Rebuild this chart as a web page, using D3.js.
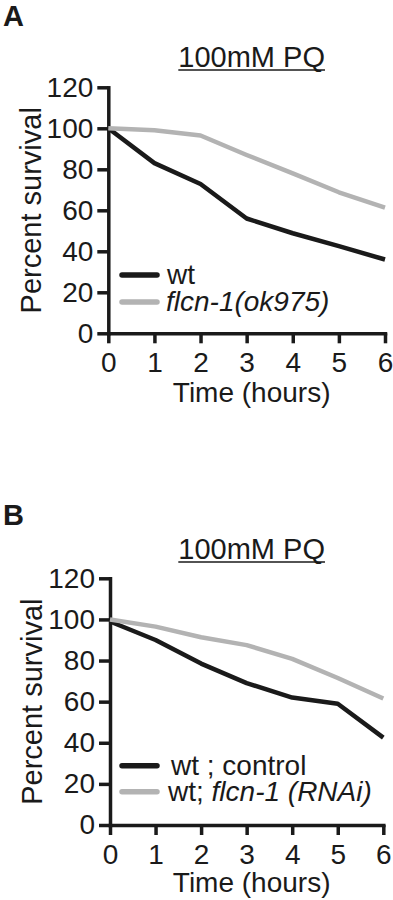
<!DOCTYPE html>
<html>
<head>
<meta charset="utf-8">
<script src="https://cdn.jsdelivr.net/npm/d3@7"></script>
<style>
  body { margin: 0; background: #fff; }
  svg text { font-family: "Liberation Sans", Arial, sans-serif; fill: #1a1a1a; }
</style>
</head>
<body>
<div id="vis"></div>
<script>
const WIDTH = 393;
const HEIGHT = 900;

// data
const HOURS = [0, 1, 2, 3, 4, 5, 6];
const Y_TICKS = [0, 20, 40, 60, 80, 100, 120];
const A_WT = [100, 83, 72.8, 56, 48.8, 42.5, 36];
const A_FLCN = [100, 99, 96.5, 87, 78, 68.8, 61.3];
const B_CONTROL = [99, 90, 78.5, 69, 62, 59, 42.5];
const B_RNAI = [100, 96.5, 91.3, 87.5, 80.8, 71.5, 61.5];

const BLACK = "#1a1a1a";
const GREY = "#b3b3b3";

const FRAME = d3.select("#vis")
    .append("svg")
        .attr("width", WIDTH)
        .attr("height", HEIGHT);

function panel(opts) {
    const X_SCALE = d3.scaleLinear()
        .domain([0, 6])
        .range([opts.x0, opts.x1]);
    const Y_SCALE = d3.scaleLinear()
        .domain([0, 120])
        .range([opts.yBottom, opts.yTop]);

    // panel letter
    FRAME.append("text")
        .attr("x", 3)
        .attr("y", opts.letterY)
        .attr("font-size", 29)
        .attr("font-weight", "bold")
        .text(opts.letter);

    // title, underlined
    const title = FRAME.append("text")
        .attr("x", (opts.x0 + opts.x1) / 2 + 5)
        .attr("y", opts.titleY)
        .attr("text-anchor", "middle")
        .attr("font-size", 29)
        .text("100mM PQ");
    const tb = title.node().getBBox();
    FRAME.append("line")
        .attr("x1", tb.x).attr("x2", tb.x + tb.width)
        .attr("y1", opts.titleY + 3).attr("y2", opts.titleY + 3)
        .attr("stroke", BLACK).attr("stroke-width", 1.6);

    // axes
    const yAxis = FRAME.append("g")
        .attr("transform", `translate(${opts.x0},0)`)
        .call(d3.axisLeft(Y_SCALE).tickValues(Y_TICKS).tickFormat(d3.format("d"))
            .tickSize(11).tickSizeOuter(0).tickPadding(4));
    const xAxis = FRAME.append("g")
        .attr("transform", `translate(0,${opts.yBottom})`)
        .call(d3.axisBottom(X_SCALE).tickValues(HOURS).tickFormat(d3.format("d"))
            .tickSize(10).tickSizeOuter(0).tickPadding(9));

    [yAxis, xAxis].forEach((g) => {
        g.selectAll("path, line").attr("stroke", BLACK).attr("stroke-width", 3.5);
        g.selectAll("text").attr("font-size", 28).attr("fill", BLACK)
            .attr("font-family", "Liberation Sans, Arial, sans-serif");
    });
    yAxis.select(".domain").attr("stroke-linecap", "square");
    xAxis.select(".domain").attr("stroke-linecap", "square");

    // axis titles
    FRAME.append("text")
        .attr("transform", `translate(${opts.ylabelX},${(opts.yTop + opts.yBottom) / 2}) rotate(-90)`)
        .attr("text-anchor", "middle")
        .attr("font-size", 29)
        .text("Percent survival");
    FRAME.append("text")
        .attr("x", (opts.x0 + opts.x1) / 2 + 5)
        .attr("y", opts.xlabelY)
        .attr("text-anchor", "middle")
        .attr("font-size", 28)
        .text("Time (hours)");

    // series
    const line = d3.line()
        .x((d, i) => X_SCALE(HOURS[i]))
        .y((d) => Y_SCALE(d));

    opts.series.forEach((s) => {
        FRAME.append("path")
            .datum(s.values)
            .attr("d", line)
            .attr("fill", "none")
            .attr("stroke", s.color)
            .attr("stroke-width", 4.5)
            .attr("stroke-linejoin", "round");
    });

    // legend
    opts.series.forEach((s, i) => {
        const ly = opts.legendY + i * opts.legendGap;
        FRAME.append("line")
            .attr("x1", 122).attr("x2", 157)
            .attr("y1", ly).attr("y2", ly)
            .attr("stroke", s.color)
            .attr("stroke-width", 5.5)
            .attr("stroke-linecap", "round");
        const t = FRAME.append("text")
            .attr("x", s.labelX)
            .attr("y", ly + 9)
            .attr("font-size", 28);
        s.label.forEach((part) => {
            t.append("tspan")
                .attr("font-style", part.italic ? "italic" : "normal")
                .text(part.text);
        });
    });
}

panel({
    letter: "A", letterY: 26,
    titleY: 67,
    x0: 108.3, x1: 385, yBottom: 333.3, yTop: 87.3,
    ylabelX: 41, xlabelY: 402,
    legendY: 275, legendGap: 27,
    series: [
        {values: A_WT, color: BLACK, labelX: 167, label: [{text: "wt"}]},
        {values: A_FLCN, color: GREY, labelX: 166, label: [{text: "flcn-1(ok975)", italic: true}]}
    ]
});

panel({
    letter: "B", letterY: 525,
    titleY: 559,
    x0: 110, x1: 383.3, yBottom: 825, yTop: 578.3,
    ylabelX: 42, xlabelY: 892,
    legendY: 765.7, legendGap: 26,
    series: [
        {values: B_CONTROL, color: BLACK, labelX: 171, label: [{text: "wt ; control"}]},
        {values: B_RNAI, color: GREY, labelX: 168, label: [{text: "wt; "}, {text: "flcn-1 (RNAi)", italic: true}]}
    ]
});
</script>
</body>
</html>
